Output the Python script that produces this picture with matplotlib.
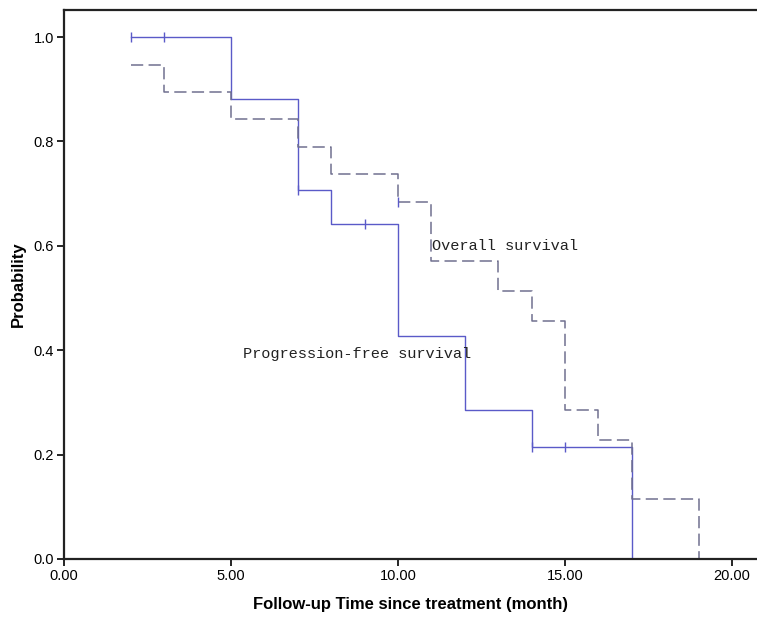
import matplotlib.pyplot as plt

# Kaplan-Meier curves
pfs_t = [2, 5, 7, 8, 10, 12, 14, 17]
pfs_s = [1.0, 0.882, 0.706, 0.642, 0.428, 0.285, 0.214, 0.0]
pfs_cens_t = [2, 3, 7, 9, 14, 15]
pfs_cens_s = [1.0, 1.0, 0.706, 0.642, 0.214, 0.214]

os_t = [2, 3, 5, 7, 8, 10, 11, 13, 14, 15, 16, 17, 19]
os_s = [0.947, 0.895, 0.842, 0.789, 0.737, 0.684, 0.570, 0.513, 0.456,
        0.285, 0.228, 0.114, 0.0]
os_cens_t = [10]
os_cens_s = [0.684]

x_ticks = [0, 5, 10, 15, 20]
y_ticks = [0.0, 0.2, 0.4, 0.6, 0.8, 1.0]

pfs_color = '#5a5ac8'
os_color = '#70708f'

fig = plt.figure(figsize=(7.57, 6.18), dpi=100)
ax = fig.add_axes([0.0845, 0.0955, 0.9155, 0.8885])

ax.step(pfs_t, pfs_s, where='post', color=pfs_color, linewidth=1.0)
ax.plot(pfs_cens_t, pfs_cens_s, linestyle='none', marker='|',
        markersize=7, color=pfs_color, markeredgewidth=1.0)

ax.step(os_t, os_s, where='post', color=os_color, linewidth=1.1,
        linestyle=(0, (8, 3.5)))
ax.plot(os_cens_t, os_cens_s, linestyle='none', marker='|',
        markersize=7, color=pfs_color, markeredgewidth=1.0)

ax.text(11.02, 0.60, 'Overall survival', family='Liberation Mono',
        fontsize=11, va='center', ha='left', color='#222222')
ax.text(5.36, 0.393, 'Progression-free survival', family='Liberation Mono',
        fontsize=11, va='center', ha='left', color='#222222')

ax.set_xlim(0, 20.75)
ax.set_ylim(0, 1.052)
ax.set_xticks(x_ticks)
ax.set_xticklabels(['%.2f' % v for v in x_ticks], family='Liberation Sans', fontsize=10.5)
ax.set_yticks(y_ticks)
ax.set_yticklabels(['%.1f' % v for v in y_ticks], family='Liberation Sans', fontsize=10.5)
ax.tick_params(axis='both', direction='out', length=5, width=1.2, pad=2)

for side in ['left', 'bottom', 'top']:
    ax.spines[side].set_linewidth(1.6)
    ax.spines[side].set_color('#222222')
ax.spines['right'].set_visible(False)

ax.set_xlabel('Follow-up Time since treatment (month)', family='Liberation Sans',
              fontsize=12, fontweight='bold', labelpad=10)
ax.set_ylabel('Probability', family='Liberation Sans', fontsize=12,
              fontweight='bold', labelpad=6)

fig.savefig('out.png', dpi=100)
